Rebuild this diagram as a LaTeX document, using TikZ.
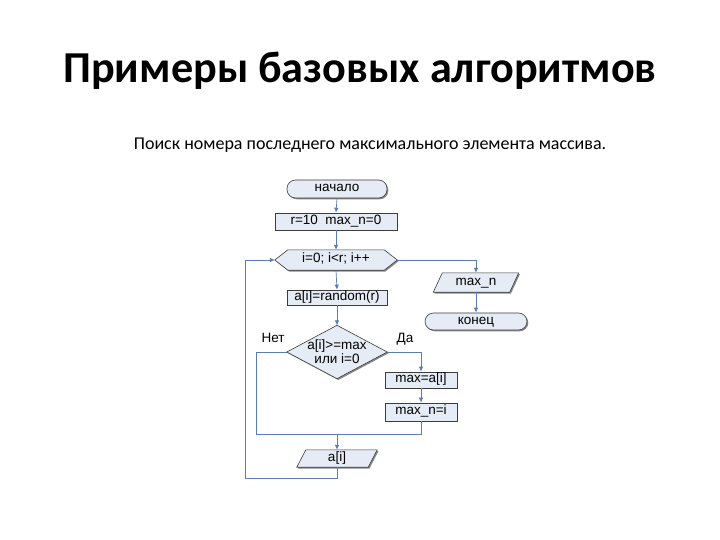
\documentclass[tikz,border=0pt]{standalone}
\usepackage{fontspec}
\setmainfont{Carlito}
\newfontfamily\flowfont{Liberation Sans}
\usetikzlibrary{calc,arrows.meta,shadows,backgrounds}
\definecolor{boxfill}{HTML}{E6ECF5}
\definecolor{boxline}{HTML}{3C3C3C}
\definecolor{conn}{HTML}{5A7DB3}
\definecolor{shade}{HTML}{8A8A8A}
\tikzset{
  shadowed/.style={drop shadow={shadow xshift=1.3pt,shadow yshift=-1.3pt,fill=shade,opacity=1}},
  boxshape/.style={draw=boxline,fill=boxfill,line width=0.6pt,shadowed},
  flowfnt/.style={font=\flowfont\fontsize{13.5}{15}\selectfont,text=black},
  flowtext/.style={flowfnt,text height=1.25ex,text depth=0pt},
  procbox/.style={boxshape,flowtext,rectangle,inner sep=0pt},
  termbox/.style={boxshape,flowtext,rectangle,rounded corners=8.5pt,inner sep=0pt},
  ghost/.style={flowtext,rectangle,inner sep=0pt,draw=none,fill=none},
  ghostml/.style={flowfnt,rectangle,inner sep=0pt,draw=none,fill=none,align=center},
  arr/.style={draw=conn,line width=0.7pt,-{Latex[length=5pt,width=4.5pt]}},
  ln/.style={draw=conn,line width=0.7pt},
  lbl/.style={flowtext}
}
\begin{document}
\begin{tikzpicture}[x=1pt,y=-1pt]
\useasboundingbox (0,0) rectangle (720,540);
% titles
\node (title) at (360,71) {\fontsize{44.2}{50}\selectfont\bfseries Примеры базовых алгоритмов};
\node (sub) at (370,145) {\fontsize{18}{21}\selectfont Поиск номера последнего максимального элемента массива.};
% nodes
\node[termbox,minimum width=100pt,minimum height=18pt] (start) at (337,189) {начало};
\node[procbox,minimum width=122pt,minimum height=17pt] (init) at (336,221.5) {r=10~~max\_n=0};
\node[ghost,minimum width=122pt,minimum height=20pt] (loop) at (336,260) {i=0; i<r; i++};
\node[procbox,minimum width=100pt,minimum height=15pt] (rand) at (337,297.5) {a[i]=random(r)};
\node[ghostml,minimum width=100pt,minimum height=53pt] (cond) at (337,352) {a[i]>=max\\[-1pt]или i=0};
\node[procbox,minimum width=72pt,minimum height=16pt] (set1) at (421,380) {max=a[i]};
\node[procbox,minimum width=72pt,minimum height=18pt] (set2) at (421,412) {max\_n=i};
\node[ghost,minimum width=80pt,minimum height=17pt] (outa) at (337,458.5) {a[i]};
\node[ghost,minimum width=85pt,minimum height=19pt] (outm) at (476,282.5) {max\_n};
\node[termbox,minimum width=102pt,minimum height=17pt] (fin) at (476,321.5) {конец};
\node[lbl] (no) at (273,340) {Нет};
\node[lbl] (yes) at (405,340) {Да};
% shapes behind text
\begin{scope}[on background layer]
\fill[white] (0,0) rectangle (720,540);
\path[boxshape] (loop.west) -- ($(loop.north west)+(13,0)$) -- ($(loop.north east)+(-13,0)$) -- (loop.east) -- ($(loop.south east)+(-13,0)$) -- ($(loop.south west)+(13,0)$) -- cycle;
\path[boxshape] (cond.west) -- (cond.north) -- (cond.east) -- (cond.south) -- cycle;
\path[boxshape] ($(outa.north west)+(9,0)$) -- (outa.north east) -- ($(outa.south east)+(-9,0)$) -- (outa.south west) -- cycle;
\path[boxshape] ($(outm.north west)+(9,0)$) -- (outm.north east) -- ($(outm.south east)+(-9,0)$) -- (outm.south west) -- cycle;
\end{scope}
% connectors
\coordinate (jl) at (256,434);
\coordinate (jr) at (421,434);
\coordinate (bl) at (245,478);
\draw[arr] (start.south) -- (init.north);
\draw[arr] (init.south) -- (loop.north);
\draw[arr] (loop.south) -- (rand.north);
\draw[arr] (rand.south) -- (cond.north);
\draw[arr] (loop.east) -| (outm.north);
\draw[arr] (outm.south) -- (fin.north);
\draw[arr] (cond.east) -| (set1.north);
\draw[arr] (set1.south) -- (set2.north);
\draw[ln] (cond.west) -| (jl) -- (jr) -- (set2.south);
\draw[arr] (outa.north |- jl) -- (outa.north);
\draw[arr] (outa.south) |- (bl) |- (loop.west);
\end{tikzpicture}
\end{document}
